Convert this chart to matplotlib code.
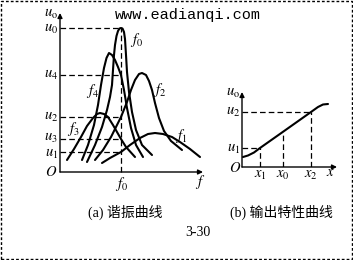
import matplotlib
matplotlib.use("Agg")
import matplotlib.pyplot as plt
from matplotlib.patches import Rectangle

plt.rcParams['mathtext.fontset'] = 'stix'

# ---------------- data (panel a: resonance curves) ----------------
f0_f = [27, 35, 42, 47, 50, 52, 53, 54, 55, 56.5, 58, 59.5, 61, 62.5, 64, 65, 66, 67, 69, 72, 76, 82, 92]
f0_u = [10, 27, 45, 62, 75, 87, 102, 117, 127, 136, 141, 143.5, 144, 143.5, 140, 133, 117, 100, 80, 60, 42, 27, 17]

f4_f = [22, 28, 34, 38, 41, 44, 46.5, 49, 52, 55, 58, 61, 64, 67, 71, 76, 83]
f4_u = [12, 27, 47, 67, 87, 104, 114, 119, 117, 112, 105, 97, 82, 64, 44, 27, 15]

f2_f = [35, 43, 51, 61, 67, 71, 75, 79, 82, 86, 89, 92, 95, 99, 104, 111, 122]
f2_u = [12, 22, 35, 55, 70, 82, 92, 98, 99, 97, 91, 82, 69, 54, 41, 31, 22]

f3_f = [7, 14, 21, 27, 33, 37, 40, 44, 48, 53, 57, 61, 66, 75]
f3_u = [12, 23, 35, 46, 54, 58, 59, 58, 55, 47, 40, 33, 25, 15]

f1_f = [42, 50, 61, 70, 80, 88, 95, 103, 112, 120, 130, 140]
f1_u = [9, 14, 20, 27, 34, 38, 39, 38, 35, 30, 23, 15]

curve_labels = ['$f_0$', '$f_4$', '$f_2$', '$f_3$', '$f_1$']
curve_label_f = [77, 33, 100, 13, 121]
curve_label_u = [132, 81, 82, 43, 36]

f_res = 61
level_names = ['$u_0$', '$u_4$', '$u_2$', '$u_3$', '$u_1$']
level_values = [144, 97, 55, 33, 20]

# ---------------- data (panel b: output characteristic) ----------------
xb = [1, 6, 12, 18, 41, 69, 76, 81, 86]
ub = [10, 11.5, 14.5, 19, 35.2, 55, 60, 62.5, 63]
xb_ticks = [18, 41, 69]
xb_tick_labels = ['$x_1$', '$x_0$', '$x_2$']
ub_levels = [19, 55]
ub_level_names = ['$u_1$', '$u_2$']

W, H = 353, 260
fig = plt.figure(figsize=(W / 100, H / 100), dpi=100)

LW = 1.5
DASH = (0, (4.5, 2.5))
ARW = dict(arrowstyle='-|>', lw=1.0, color='black', mutation_scale=7,
           shrinkA=0, shrinkB=0)
lab_fs = 10.5
label_nudge = [0, 0, 0, 1.8, -1.8]

# ---------------- panel a ----------------
axa = fig.add_axes([60 / W, 88 / H, 145 / W, 160 / H])
axa.set_xlim(0, 145)
axa.set_ylim(0, 160)
axa.axis('off')

axa.annotate('', xy=(0, 159), xytext=(0, 0), arrowprops=ARW, annotation_clip=False)
axa.annotate('', xy=(143, 0), xytext=(0, 0), arrowprops=ARW, annotation_clip=False)

for name, val, dy in zip(level_names, level_values, label_nudge):
    axa.plot([0, f_res], [val, val], color='black', lw=0.9, ls=DASH, clip_on=False)
    axa.text(-2, val + dy, name, ha='right', va='center', fontsize=lab_fs)
axa.plot([f_res, f_res], [0, level_values[0]], color='black', lw=0.9, ls=DASH, clip_on=False)

for ff, uu in [(f0_f, f0_u), (f4_f, f4_u), (f2_f, f2_u), (f3_f, f3_u), (f1_f, f1_u)]:
    axa.plot(ff, uu, color='black', lw=LW, solid_capstyle='round',
             solid_joinstyle='round', clip_on=False)

for t, x, y in zip(curve_labels, curve_label_f, curve_label_u):
    axa.text(x, y, t, ha='center', va='center', fontsize=lab_fs)

axa.text(-2, 159, r'$u_{\rm o}$', ha='right', va='center', fontsize=lab_fs)
axa.text(-9, 0, '$O$', ha='center', va='center', fontsize=lab_fs)
axa.text(f_res + 1, -12, '$f_0$', ha='center', va='center', fontsize=lab_fs)
axa.text(140, -10, '$f$', ha='center', va='center', fontsize=lab_fs)

# ---------------- panel b ----------------
axb = fig.add_axes([242 / W, 93 / H, 98 / W, 80 / H])
axb.set_xlim(0, 98)
axb.set_ylim(0, 80)
axb.axis('off')

axb.annotate('', xy=(0, 75), xytext=(0, 0), arrowprops=ARW, annotation_clip=False)
axb.annotate('', xy=(95, 0), xytext=(0, 0), arrowprops=ARW, annotation_clip=False)

axb.plot(xb, ub, color='black', lw=LW, solid_capstyle='round', clip_on=False)

# dashed guides
axb.plot([0, xb_ticks[0]], [ub_levels[0], ub_levels[0]], color='black', lw=0.9, ls=DASH)
axb.plot([0, xb_ticks[2]], [ub_levels[1], ub_levels[1]], color='black', lw=0.9, ls=DASH)
axb.plot([xb_ticks[0], xb_ticks[0]], [0, ub_levels[0]], color='black', lw=0.9, ls=DASH)
axb.plot([xb_ticks[1], xb_ticks[1]], [0, ub[4]], color='black', lw=0.9, ls=DASH)
axb.plot([xb_ticks[2], xb_ticks[2]], [0, ub_levels[1]], color='black', lw=0.9, ls=DASH)

for name, val in zip(ub_level_names, ub_levels):
    axb.text(-2, val, name, ha='right', va='center', fontsize=lab_fs)
axb.text(-2, 74, r'$u_{\rm o}$', ha='right', va='center', fontsize=lab_fs)
axb.text(-7, 0, '$O$', ha='center', va='center', fontsize=lab_fs)
for t, x in zip(xb_tick_labels, xb_ticks):
    axb.text(x, -7, t, ha='center', va='center', fontsize=lab_fs)
axb.text(88, -5, '$x$', ha='center', va='center', fontsize=lab_fs)

# ---------------- texts ----------------
cap_fam = ['Liberation Serif', 'Noto Sans CJK SC']
fig.text(125 / W, 1 - 212 / H, '(a) 谐振曲线', ha='center', va='center',
         fontsize=10, family=cap_fam)
fig.text(281 / W, 1 - 212 / H, '(b) 输出特性曲线', ha='center', va='center',
         fontsize=10, family=cap_fam)
fig.text(198 / W, 1 - 232 / H, '3-30', ha='center', va='center',
         fontsize=10, family=['Liberation Serif'])
fig.text(115 / W, 1 - 15 / H, 'www.eadianqi.com', ha='left', va='center',
         fontsize=11, family=['Liberation Mono'])

# dashed border
fig.add_artist(Rectangle((0.002, 0.003), 0.994, 0.993, transform=fig.transFigure,
                         fill=False, ec='black', lw=1.0, ls=(0, (2, 1.5))))

fig.savefig('out.png', dpi=100, facecolor='white')
